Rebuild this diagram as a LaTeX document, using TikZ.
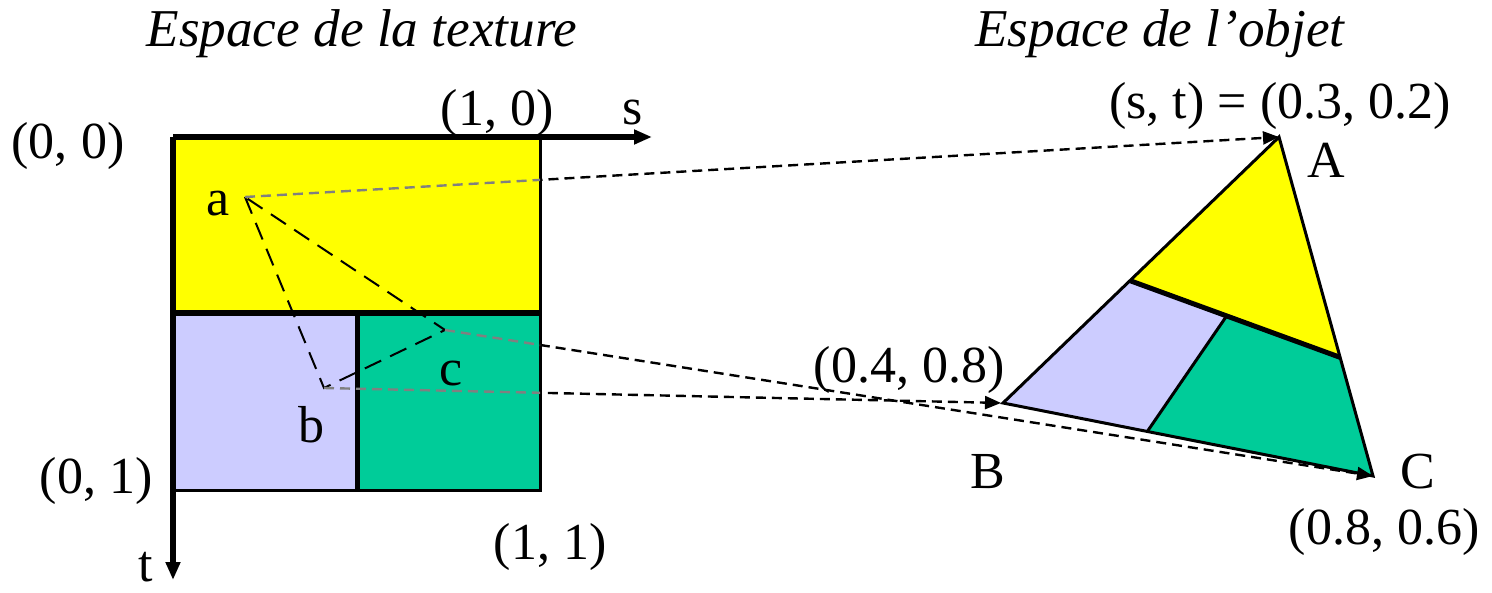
\documentclass[tikz,border=0pt]{standalone}
\usepackage{fontspec}
\setmainfont{Liberation Serif}
\usepackage{xcolor}
\usepackage{tikz}
\usetikzlibrary{calc,arrows.meta,positioning}
\definecolor{texYellow}{HTML}{FFFF00}
\definecolor{texLilac}{HTML}{CCCCFF}
\definecolor{texGreen}{HTML}{00CC99}
\colorlet{insideMap}{black!50}
\tikzset{
  lbl/.style={font=\fontsize{26}{30}\selectfont, anchor=base, inner sep=0pt},
  ttl/.style={lbl, font=\fontsize{26.6}{30}\selectfont\itshape},
  axis/.style={line width=3pt, -{Triangle[length=9pt,width=7pt]}},
  mapto/.style={line width=1.2pt, dash pattern=on 5pt off 3pt, -{Triangle[length=8pt,width=6.5pt]}},
  mapin/.style={insideMap, line width=1.2pt, dash pattern=on 5pt off 3pt},
  tri/.style={line width=1pt, dash pattern=on 9pt off 5pt}
}

\begin{document}
\begin{tikzpicture}[x=0.5pt, y=-0.5pt]
      \useasboundingbox (0,0) rectangle (1492,593);

      % texture corners and points
      \coordinate (o) at (173,137);
      \coordinate (e) at (540,490);
      \coordinate (a) at (245,197);
      \coordinate (b) at (324,388);
      \coordinate (c) at (445,330);

      % object triangle
      \coordinate (A) at (1279,137);
      \coordinate (B) at (1003,403);
      \coordinate (C) at (1373,476);
      \coordinate (P) at ($(A)!0.54!(B)$);
      \coordinate (Q) at ($(A)!0.65!(C)$);
      \coordinate (R) at ($(P)!0.46!(Q)$);
      \coordinate (S) at ($(B)!0.39!(C)$);

      % --- texture fills ---
      \fill[texYellow] (173,137) rectangle (540,313);
      \fill[texLilac] (173,313) rectangle (357,490);
      \fill[texGreen] (357,313) rectangle (540,490);
      \draw[line width=1.5pt] (540,137) -- (e) -- (173,490);
      \draw[line width=3pt] (173,313) -- (540,313);
      \draw[line width=2.5pt] (357,313) -- (357,490);

      % axes s and t
      \draw[axis] (o) -- (652,137);
      \draw[axis] (o) -- (173,580);

      % --- triangle fills ---
      \fill[texYellow] (A) -- (P) -- (Q) -- cycle;
      \fill[texLilac] (P) -- (R) -- (S) -- (B) -- cycle;
      \fill[texGreen] (R) -- (Q) -- (C) -- (S) -- cycle;
      \draw[line width=1.5pt, line join=miter] (A) -- (B) -- (C) -- cycle;
      \draw[line width=2.5pt] (P) -- (Q);
      \draw[line width=1.5pt] (R) -- (S);

      % dashed triangle abc
      \draw[tri] (a) -- (b) -- (c) -- cycle;

      % mapping: grey inside the texture
      \begin{scope}
      \clip (173,137) rectangle (540,490);
      \draw[mapin] (a) -- (A);
      \draw[mapin] (b) -- (B);
      \draw[mapin] (c) -- (C);
      \end{scope}

      % mapping: black outside
      \begin{scope}
      \clip (541,0) rectangle (1492,593);
      \draw[mapto] (a) -- (A);
      \draw[mapto, shorten >=1pt] (b) -- (B);
      \draw[mapto] (c) -- (C);
      \end{scope}

      % labels
      \node[ttl] (ttex) at (362,47) {Espace de la texture};
      \node[ttl] (tobj) at (1160,47) {Espace de l’objet};
      \node[lbl] (l00) at (68,159) {(0, 0)};
      \node[lbl] (l10) at (497,126) {(1, 0)};
      \node[lbl] (ls) at (633,125) {s};
      \node[lbl] (l01) at (96,493) {(0, 1)};
      \node[lbl] (l11) at (550,559) {(1, 1)};
      \node[lbl] (lt) at (146,581) {t};
      \node[lbl] (la) at (218,215) {a};
      \node[lbl] (lb) at (311,442) {b};
      \node[lbl] (lc) at (451,385) {c};
      \node[lbl] (lA) at (1326,178) {A};
      \node[lbl] (lB) at (988,488) {B};
      \node[lbl] (lC) at (1418,488) {C};
      \node[lbl] (cA) at (1280,119) {(s, t) = (0.3, 0.2)};
      \node[lbl] (cB) at (909,382) {(0.4, 0.8)};
      \node[lbl] (cC) at (1384,544) {(0.8, 0.6)};
    \end{tikzpicture}
\end{document}
